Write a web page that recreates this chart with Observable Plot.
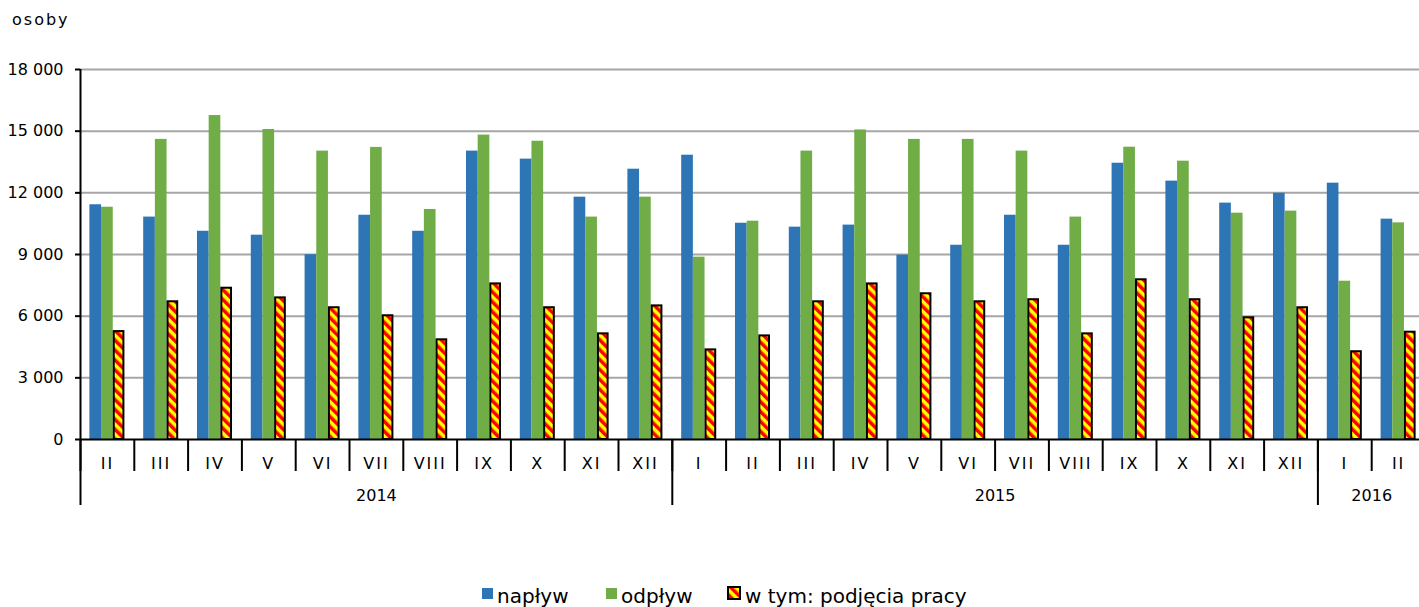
<!DOCTYPE html>
<html>
<head>
<meta charset="utf-8">
<script src="https://cdn.jsdelivr.net/npm/d3@7"></script>
<script src="https://cdn.jsdelivr.net/npm/@observablehq/plot@0.6"></script>
<style>
html, body { margin: 0; padding: 0; background: #fff; overflow: hidden; }
body { width: 1419px; height: 607px; position: relative; font-family: "DejaVu Sans", Verdana, sans-serif; color: #000; }
#unit { position: absolute; left: 12px; top: 10px; font-size: 16px; letter-spacing: 2px; }
#chart { position: absolute; left: 0; top: 0; }
.leg { position: absolute; top: 584px; display: flex; align-items: center; font-size: 20px; white-space: nowrap; }
.sw { width: 11px; height: 11px; margin-right: 4px; display: inline-block; position: relative; top: -3px; }
.leg svg { position: relative; top: -3px; }
#chart g[aria-label="x-axis tick label"] text { letter-spacing: 2px; }
</style>
</head>
<body>
<svg width="0" height="0" style="position:absolute">
  <defs>
    <pattern id="hatch" patternUnits="userSpaceOnUse" width="7" height="7" patternTransform="rotate(-45)">
      <rect width="7" height="7" fill="#ffff00"></rect>
      <rect width="3.5" height="7" fill="#ff0000"></rect>
    </pattern>
  </defs>
</svg>
<div id="unit">osoby</div>
<div id="chart"></div>
<div class="leg" style="left:482px"><span class="sw" style="background:#2E75B6"></span>napływ</div>
<div class="leg" style="left:606px"><span class="sw" style="background:#70AD47"></span>odpływ</div>
<div class="leg" style="left:727px"><svg width="14" height="14" style="margin-right:4px"><rect x="1" y="1" width="12" height="12" fill="url(#hatch)" stroke="#000" stroke-width="2"></rect></svg>w tym: podjęcia pracy</div>
<script>
// ---- data ----
const months = ["II","III","IV","V","VI","VII","VIII","IX","X","XI","XII",
                "I","II","III","IV","V","VI","VII","VIII","IX","X","XI","XII",
                "I","II"];
const years = [2014,2014,2014,2014,2014,2014,2014,2014,2014,2014,2014,
               2015,2015,2015,2015,2015,2015,2015,2015,2015,2015,2015,2015,
               2016,2016];
const naplyw = [11420,10820,10130,9940,8990,10910,10130,14030,13640,11790,13150,
                13830,10520,10330,10430,8970,9450,10910,9450,13440,12570,11500,11980,
                12470,10720];
const odplyw = [11300,14600,15760,15080,14030,14210,11190,14810,14510,10820,11790,
                8870,10620,14030,15060,14600,14600,14030,10820,14220,13540,11010,11110,
                7700,10540];
const podjecia = [5250,6700,7360,6890,6410,6020,4850,7570,6410,5140,6500,
                  4360,5040,6700,7570,7090,6700,6800,5140,7770,6800,5920,6410,
                  4270,5220];
const yTicks = [0,3000,6000,9000,12000,15000,18000];
const yearLabels = [
  {year: "2014", at: "2014-VII", shift: 0},
  {year: "2015", at: "2015-VI", shift: 1},
  {year: "2016", at: "2016-I", shift: 1}
];

// ---- layout ----
const W = 1419, H = 520, ML = 80, MR = -6, MT = 69, MB = 81;
const keys = months.map((m, i) => `${years[i]}-${m}`);
const rows = keys.map((k, i) => ({key: k, month: months[i], year: years[i],
  naplyw: naplyw[i], odplyw: odplyw[i], podjecia: podjecia[i]}));
const monthOf = new Map(rows.map(r => [r.key, r.month]));
const yearStarts = keys.filter((k, i) => i === 0 || years[i] !== years[i - 1]);
const bw = (W - MR - ML) / keys.length;
const barW = bw * 0.217;
const start = (bw - 3 * barW) / 2;
const fmt = d => String(d).replace(/\B(?=(\d{3})+(?!\d))/g, " ");

const chart = Plot.plot({
  width: W, height: H,
  marginLeft: ML, marginRight: MR, marginTop: MT, marginBottom: MB,
  style: {fontFamily: "DejaVu Sans, Verdana, sans-serif", fontSize: "16px", color: "#000", background: "transparent"},
  x: {type: "band", domain: keys, paddingInner: 0, paddingOuter: 0, round: false, label: null},
  y: {domain: [0, 18000], label: null},
  marks: [
    Plot.ruleY(yTicks.filter(d => d > 0), {stroke: "#a6a6a6", strokeWidth: 2}),
    Plot.barY(rows, {x: "key", y: "naplyw", fill: "#2E75B6",
      insetLeft: start, insetRight: bw - start - barW}),
    Plot.barY(rows, {x: "key", y: "odplyw", fill: "#70AD47",
      insetLeft: start + barW, insetRight: bw - start - 2 * barW}),
    Plot.barY(rows, {x: "key", y: "podjecia", fill: "url(#hatch)", stroke: "#000", strokeWidth: 2,
      insetLeft: start + 2 * barW + 1, insetRight: bw - start - 3 * barW + 1}),
    Plot.ruleY([0], {stroke: "#000", strokeWidth: 2}),
    Plot.ruleX([keys[0]], {dx: -bw / 2, stroke: "#000", strokeWidth: 2}),
    Plot.axisY({ticks: yTicks, tickSize: 5, tickPadding: 12, tickFormat: fmt, strokeWidth: 2, label: null, fontSize: 16}),
    Plot.axisX(keys, {tickSize: 32, tickFormat: null, text: null, dx: -bw / 2, strokeWidth: 2, label: null}),
    Plot.axisX(yearStarts, {tickSize: 66, tickFormat: null, text: null, dx: -bw / 2, strokeWidth: 2, label: null}),
    Plot.axisX(keys, {tickSize: 0, tickPadding: 18, tickFormat: k => monthOf.get(k), fontSize: 16, label: null}),
    Plot.text(yearLabels.filter(d => !d.shift), {x: "at", text: "year", frameAnchor: "bottom", dy: 61, fontSize: 16}),
    Plot.text(yearLabels.filter(d => d.shift), {x: "at", text: "year", frameAnchor: "bottom", dy: 61, dx: bw / 2, fontSize: 16})
  ]
});
document.getElementById("chart").appendChild(chart);
</script>
</body>
</html>
